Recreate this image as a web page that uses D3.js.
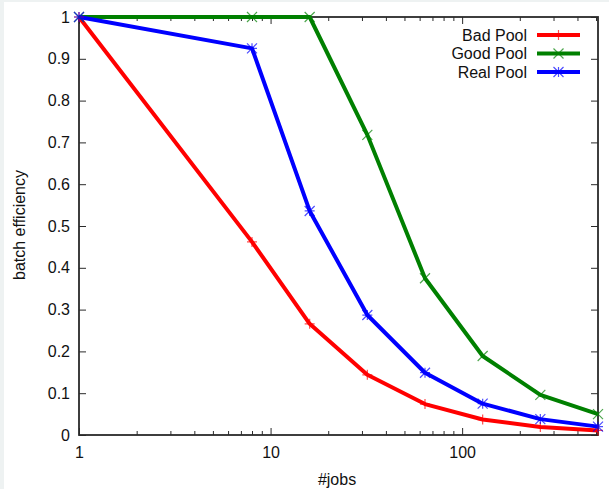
<!DOCTYPE html>
<html>
<head>
<meta charset="utf-8">
<script src="https://cdn.jsdelivr.net/npm/d3@7"></script>
<style>
  html, body { margin: 0; padding: 0; background: #fff; }
  svg { display: block; font-family: "Liberation Sans", Arial, sans-serif; }
</style>
</head>
<body>
<svg id="chart" width="609" height="489"></svg>
<script>
const jobs = [1, 8, 16, 32, 64, 128, 256, 512];
const badPool  = [1, 0.462, 0.266, 0.144, 0.074, 0.037, 0.019, 0.011];
const goodPool = [1, 1, 1, 0.718, 0.375, 0.189, 0.096, 0.050];
const realPool = [1, 0.925, 0.536, 0.287, 0.149, 0.075, 0.038, 0.020];
const seriesNames = ["Bad Pool", "Good Pool", "Real Pool"];
const seriesColors = ["#ff0000", "#008000", "#0000ff"];
const seriesMarkers = ["plus", "cross", "star"];
const xTickLabels = [1, 10, 100];
const yTickValues = [0, 0.1, 0.2, 0.3, 0.4, 0.5, 0.6, 0.7, 0.8, 0.9, 1];

const svg = d3.select("#chart");
const W = 609, H = 489;
const L = 79, R = 598, T = 17, B = 435;
const FS = "16px";

svg.append("rect").attr("width", W).attr("height", H).attr("fill", "#fff");
svg.append("rect").attr("x", 0).attr("y", 0).attr("width", 4).attr("height", H).attr("fill", "#eef2f2");
svg.append("rect").attr("x", 0).attr("y", 0).attr("width", W).attr("height", 2).attr("fill", "#eef2f2");

const x = d3.scaleLog().domain([1, 512]).range([L, R]);
const y = d3.scaleLinear().domain([0, 1]).range([B, T]);

const axisColor = "#2a2a2a";
const g = svg.append("g");

// minor x ticks
const minorX = [];
[1, 10, 100].forEach(d => { for (let k = 2; k <= 9; k++) { const v = d * k; if (v < 512) minorX.push(v); } });

// Bottom axis (ticks inward)
const xAxisB = d3.axisBottom(x).tickValues(xTickLabels).tickFormat(d3.format("d")).tickSizeInner(-7).tickSizeOuter(0).tickPadding(12);
g.append("g").attr("transform", `translate(0,${B})`).call(xAxisB);
const xMinorB = d3.axisBottom(x).tickValues(minorX).tickFormat("").tickSizeInner(-4).tickSizeOuter(0);
g.append("g").attr("transform", `translate(0,${B})`).call(xMinorB);
// Top mirror
const xAxisT = d3.axisTop(x).tickValues(xTickLabels).tickFormat("").tickSizeInner(-7).tickSizeOuter(0);
g.append("g").attr("transform", `translate(0,${T})`).call(xAxisT);
const xMinorT = d3.axisTop(x).tickValues(minorX).tickFormat("").tickSizeInner(-4).tickSizeOuter(0);
g.append("g").attr("transform", `translate(0,${T})`).call(xMinorT);

// Left axis
const yAxisL = d3.axisLeft(y).tickValues(yTickValues).tickFormat(d => d === 0 || d === 1 ? d3.format("d")(d) : d3.format(".1f")(d)).tickSizeInner(-7).tickSizeOuter(0).tickPadding(9);
g.append("g").attr("transform", `translate(${L},0)`).call(yAxisL);
const yAxisR = d3.axisRight(y).tickValues(yTickValues).tickFormat("").tickSizeInner(-7).tickSizeOuter(0);
g.append("g").attr("transform", `translate(${R},0)`).call(yAxisR);

g.selectAll(".domain").remove();
g.selectAll(".tick line").attr("stroke", axisColor).attr("stroke-width", 1);
g.selectAll(".tick text").attr("fill", "#111").style("font-size", FS).style("font-family", "Liberation Sans, Arial, sans-serif");

// frame
svg.append("rect").attr("x", L).attr("y", T).attr("width", R - L).attr("height", B - T)
  .attr("fill", "none").attr("stroke", axisColor).attr("stroke-width", 1.8);

// axis titles
svg.append("text").attr("x", 337).attr("y", 485).attr("text-anchor", "middle")
  .style("font-size", FS).attr("fill", "#111").text("#jobs");
svg.append("text").attr("transform", `translate(25,225) rotate(-90)`).attr("text-anchor", "middle")
  .style("font-size", FS).attr("fill", "#111").text("batch efficiency");

// markers
function markerPath(type, cx, cy, s) {
  if (type === "plus") return `M${cx - s},${cy}H${cx + s}M${cx},${cy - s}V${cy + s}`;
  if (type === "cross") return `M${cx - s},${cy - s}L${cx + s},${cy + s}M${cx - s},${cy + s}L${cx + s},${cy - s}`;
  return `M${cx - s},${cy}H${cx + s}M${cx},${cy - s}V${cy + s}M${cx - s},${cy - s}L${cx + s},${cy + s}M${cx - s},${cy + s}L${cx + s},${cy - s}`;
}

const allSeries = [badPool, goodPool, realPool];
const line = d3.line().x((d, i) => x(jobs[i])).y(d => y(d));
const plot = svg.append("g");
allSeries.forEach((vals, si) => {
  plot.append("path").datum(vals).attr("d", line).attr("fill", "none")
    .attr("stroke", seriesColors[si]).attr("stroke-width", 4).attr("stroke-linejoin", "round");
});
allSeries.forEach((vals, si) => {
  plot.selectAll(null).data(vals).enter().append("path")
    .attr("d", (d, i) => markerPath(seriesMarkers[si], x(jobs[i]), y(d), 5))
    .attr("stroke", seriesColors[si]).attr("stroke-width", 1.2).attr("fill", "none").attr("opacity", 0.7);
});

// legend
const leg = svg.append("g");
seriesNames.forEach((name, i) => {
  const ly = 35 + i * 18.5;
  leg.append("text").attr("x", 527).attr("y", ly).attr("dy", "0.35em").attr("text-anchor", "end")
    .style("font-size", FS).attr("fill", "#111").text(name);
  leg.append("line").attr("x1", 537).attr("x2", 580).attr("y1", ly).attr("y2", ly)
    .attr("stroke", seriesColors[i]).attr("stroke-width", 4);
  leg.append("path").attr("d", markerPath(seriesMarkers[i], 558.5, ly, 5))
    .attr("stroke", seriesColors[i]).attr("stroke-width", 1.2).attr("fill", "none").attr("opacity", 0.7);
});
</script>
</body>
</html>
